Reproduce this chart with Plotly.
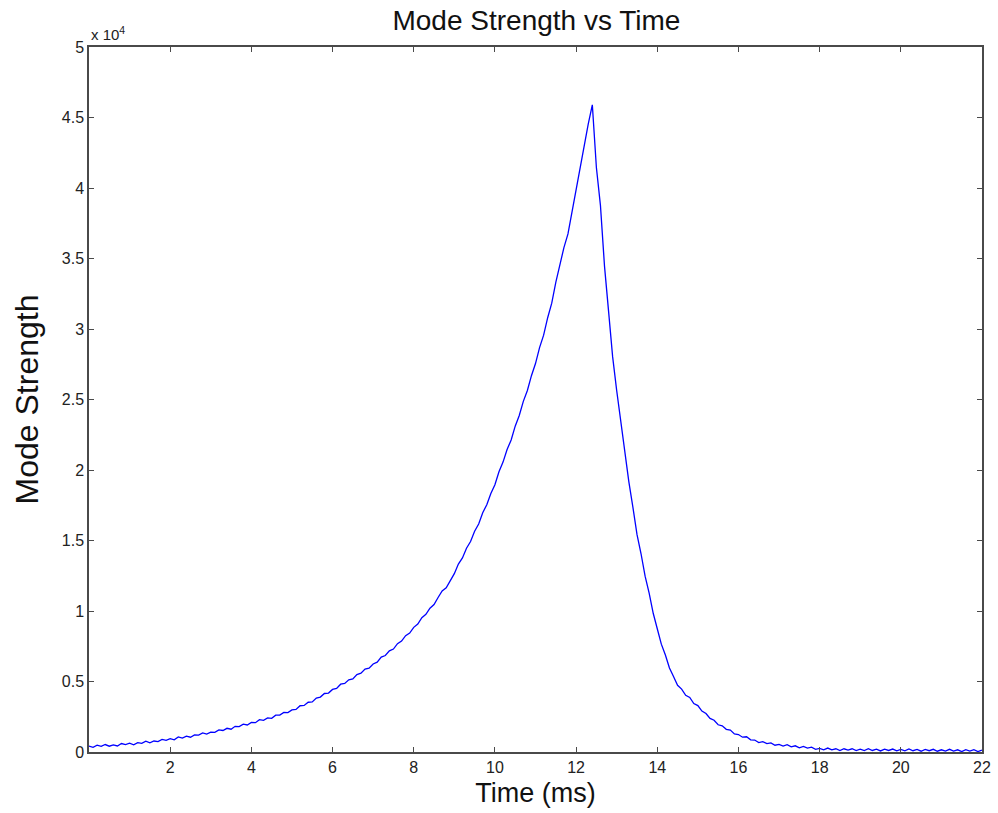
import plotly.graph_objects as go

# Sample times (ms), 0.1 ms grid from 0 to 22
time_ms = [round(i * 0.1, 1) for i in range(221)]

# Mode strength values (raw units)
mode_strength = [
    420, 335, 480, 395, 530, 410, 500, 430, 600, 520,
    620, 510, 660, 610, 770, 655, 780, 735, 890, 830,
    950, 860, 1070, 985, 1130, 1050, 1210, 1200, 1350, 1265,
    1410, 1390, 1570, 1525, 1680, 1615, 1820, 1800, 1970, 1915,
    2090, 2080, 2290, 2250, 2420, 2390, 2610, 2615, 2810, 2795,
    2990, 3015, 3280, 3300, 3530, 3555, 3830, 3895, 4150, 4180,
    4440, 4515, 4810, 4860, 5120, 5180, 5490, 5590, 5880, 5940,
    6240, 6375, 6730, 6845, 7170, 7300, 7680, 7870, 8250, 8430,
    8840, 9075, 9530, 9760, 10200, 10455, 10960, 11420, 11640, 12190,
    12650, 13330, 13760, 14450, 14930, 15660, 16170, 16970, 17540, 18340,
    18950, 19880, 20560, 21450, 22130, 23110, 23870, 24870, 25640, 26690,
    27550, 28680, 29560, 30800, 31830, 33310, 34570, 35770, 36740, 38340,
    39750, 41480, 42960, 44550, 45900,
    41450, 38760, 34460, 31270, 28040,
    25640, 23450, 21380, 19160, 17350, 15430, 14060, 12470, 11270, 9840,
    8740, 7650, 6880, 5960, 5350, 4730, 4460, 4020, 3870, 3440,
    3290, 2900, 2730, 2380, 2250, 1930, 1860, 1610, 1550, 1280,
    1240, 1050, 1080, 860, 850, 670, 740, 600, 650, 480,
    540, 420, 520, 370, 440, 290, 390, 270, 340, 185,
    260, 160, 280, 150, 230, 105, 230, 135, 230, 98,
    195, 103, 230, 108, 196, 74, 202, 110, 210, 80,
    180, 85, 215, 90, 180, 55, 185, 90, 190, 55,
    155, 60, 190, 65, 155, 30, 160, 65, 165, 30,
    130,
]

x_tick_vals = [2, 4, 6, 8, 10, 12, 14, 16, 18, 20, 22]
x_tick_text = ["2", "4", "6", "8", "10", "12", "14", "16", "18", "20", "22"]
y_tick_vals = [0, 5000, 10000, 15000, 20000, 25000, 30000, 35000, 40000, 45000, 50000]
y_tick_text = ["0", "0.5", "1", "1.5", "2", "2.5", "3", "3.5", "4", "4.5", "5"]

FONT = "Liberation Sans, Arial, Helvetica, sans-serif"
AX = "#4a4a4a"

fig = go.Figure()
fig.add_trace(go.Scatter(
    x=time_ms, y=mode_strength, mode="lines",
    line=dict(color="#0000ff", width=1.3),
    showlegend=False,
))

fig.update_layout(
    width=998, height=813,
    margin=dict(l=89, r=7, t=47, b=61),
    paper_bgcolor="white", plot_bgcolor="white",
    font=dict(family=FONT, color="#222"),
    title=dict(text="Mode Strength vs Time", x=0.5375, xanchor="center",
               y=1 - 20 / 813, yanchor="middle", yref="container",
               font=dict(size=28, color="#111", family=FONT)),
    xaxis=dict(
        range=[0, 22], tickvals=x_tick_vals, ticktext=x_tick_text,
        showgrid=False, zeroline=False, showline=True, linecolor=AX, linewidth=1.5,
        mirror="ticks", ticks="inside", ticklen=5, tickcolor=AX, tickwidth=1,
        tickfont=dict(size=16, color="#222"),
        title=dict(text="Time (ms)", font=dict(size=27, color="#111"), standoff=8),
    ),
    yaxis=dict(
        range=[0, 50000], tickvals=y_tick_vals, ticktext=y_tick_text,
        showgrid=False, zeroline=False, showline=True, linecolor=AX, linewidth=1.5,
        mirror="ticks", ticks="inside", ticklen=5, tickcolor=AX, tickwidth=1,
        tickfont=dict(size=16, color="#222"),
        title=dict(text="Mode Strength", font=dict(size=32, color="#111"), standoff=14),
    ),
    annotations=[dict(
        text="x 10<sup>4</sup>", xref="paper", yref="paper", x=0, y=1,
        xanchor="left", yanchor="bottom", showarrow=False, yshift=2,
        font=dict(size=15, color="#222", family=FONT),
    )],
)

fig.write_html("out.html")
